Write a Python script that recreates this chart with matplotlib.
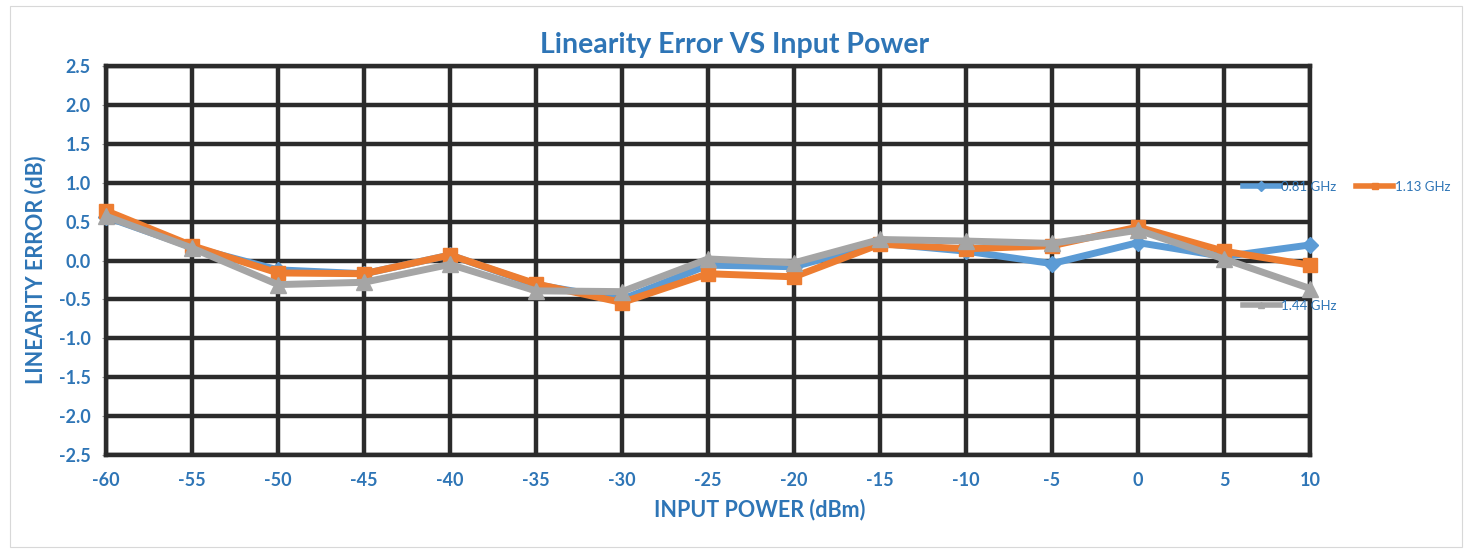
"""
Linearity error vs input power, three frequencies (Excel-style line chart).
"""

import matplotlib
matplotlib.use("Agg")
import matplotlib.pyplot as plt
from matplotlib.lines import Line2D
from matplotlib.patches import Rectangle

INPUT_POWER = ["-60", "-55", "-50", "-45", "-40", "-35", "-30", "-25",
               "-20", "-15", "-10", "-5", "0", "5", "10"]

ERR_081 = [0.56, 0.17, -0.12, -0.17, 0.07, -0.31, -0.50, -0.06,
           -0.08, 0.22, 0.12, -0.04, 0.23, 0.05, 0.20]
ERR_113 = [0.64, 0.19, -0.16, -0.17, 0.07, -0.30, -0.54, -0.17,
           -0.21, 0.21, 0.15, 0.19, 0.43, 0.12, -0.06]
ERR_144 = [0.57, 0.16, -0.31, -0.28, -0.05, -0.39, -0.40, 0.02,
           -0.03, 0.27, 0.25, 0.22, 0.39, 0.02, -0.36]

Y_TICKS = [-2.5, -2.0, -1.5, -1.0, -0.5, 0.0, 0.5, 1.0, 1.5, 2.0, 2.5]

STYLE = {
    "blue":   "#5B9BD5",
    "orange": "#ED7D31",
    "gray":   "#A5A5A5",
    "text":   "#2E75B6",
    "grid":   "#2b2b2b",
}

FONT = ["Lato", "DejaVu Sans"]

fig = plt.figure(figsize=(14.66, 5.5), dpi=100, facecolor="white")
ax = fig.add_axes([106 / 1466, 1 - 455 / 550, (1310 - 106) / 1466, (455 - 66) / 550])

# faint chart-area border
fig.patches.append(Rectangle((0.007, 0.005), 0.99, 0.985, transform=fig.transFigure,
                             fill=False, edgecolor="#d8d8d8", linewidth=0.8))

x = list(range(len(INPUT_POWER)))
series = [
    ("0.81 GHz", ERR_081, STYLE["blue"], "D", 8),
    ("1.13 GHz", ERR_113, STYLE["orange"], "s", 10),
    ("1.44 GHz", ERR_144, STYLE["gray"], "^", 11),
]
handles = []
for label, vals, col, mk, ms in series:
    ax.plot(x, vals, color=col, linewidth=5, marker=mk, markersize=ms,
            markeredgecolor=col, solid_capstyle="round", solid_joinstyle="round",
            zorder=3, clip_on=False)
    handles.append(Line2D([], [], color=col, linewidth=4, marker=mk, markersize=5,
                          label=label))

ax.set_xlim(0, len(INPUT_POWER) - 1)
ax.set_ylim(-2.5, 2.5)
ax.set_xticks(x)
ax.set_xticklabels(INPUT_POWER)
ax.set_yticks(Y_TICKS)
ax.set_yticklabels([f"{v:.1f}" for v in Y_TICKS])

ax.grid(True, color=STYLE["grid"], linewidth=3.2, zorder=0)
ax.set_axisbelow(True)
for sp in ax.spines.values():
    sp.set_color(STYLE["grid"])
    sp.set_linewidth(3.2)

for lab in ax.get_xticklabels() + ax.get_yticklabels():
    lab.set_family(FONT)
    lab.set_fontweight("bold")
    lab.set_fontsize(13)
    lab.set_color(STYLE["text"])
ax.tick_params(axis="y", length=3, color="#999999", pad=8)
ax.tick_params(axis="x", length=0, pad=12)

fig.text(735 / 1466, 1 - 45 / 550, "Linearity Error VS Input Power", family=FONT,
         fontweight="bold", fontsize=20.5, color=STYLE["text"],
         ha="center", va="center")
fig.text(760 / 1466, 1 - 510 / 550, "INPUT POWER (dBm)", family=FONT,
         fontweight="bold", fontsize=15.5, color=STYLE["text"],
         ha="center", va="center")
fig.text(36 / 1466, 1 - 270 / 550, "LINEARITY ERROR (dB)", family=FONT,
         fontweight="bold", fontsize=15.5, color=STYLE["text"],
         ha="center", va="center", rotation=90)

leg_kw = dict(frameon=False, labelcolor=STYLE["text"], handlelength=2.8,
              handletextpad=0.1, borderaxespad=0, borderpad=0,
              prop={"family": FONT, "size": 9.5})
leg1 = fig.legend(handles=handles[:2], ncol=2, loc="center left",
                  bbox_to_anchor=(1243 / 1466, 1 - 187 / 550), columnspacing=1.5,
                  **leg_kw)
leg2 = fig.legend(handles=handles[2:], loc="center left",
                  bbox_to_anchor=(1243 / 1466, 1 - 306 / 550), **leg_kw)

fig.savefig("out.png", dpi=100, facecolor="white")
plt.close(fig)
